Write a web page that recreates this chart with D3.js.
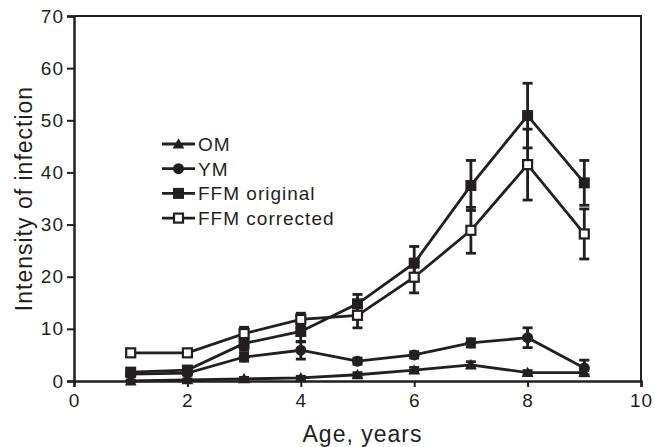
<!DOCTYPE html>
<html>
<head>
<meta charset="utf-8">
<script src="https://cdn.jsdelivr.net/npm/d3@7/dist/d3.min.js"></script>
<style>
  body { margin: 0; background: #fff; }
  text { font-family: "Liberation Sans", Arial, sans-serif; fill: #231f20; }
</style>
</head>
<body>
<div id="chart"></div>
<script>
// data
const ages = [1, 2, 3, 4, 5, 6, 7, 8, 9];
const omMean = [0, 0.2, 0.4, 0.6, 1.2, 2.1, 3.1, 1.6, 1.6];
const omErr = [0.2, 0.2, 0.3, 0.3, 0.4, 0.5, 0.6, 0.4, 0.4];
const ymMean = [1.3, 1.5, 4.6, 5.9, 3.8, 5.0, 7.3, 8.3, 2.5];
const ymErr = [0.4, 0.4, 0.8, 1.7, 0.6, 0.6, 0.8, 1.9, 1.5];
const ffmOrigMean = [1.7, 2.1, 7.2, 9.5, 14.8, 22.6, 37.5, 50.9, 38.0];
const ffmOrigErr = [0.5, 0.5, 1.3, 2.0, 1.8, 3.2, 4.8, 6.2, 4.3];
const ffmCorrMean = [5.4, 5.4, 9.1, 11.8, 12.6, 19.9, 28.9, 41.5, 28.2];
const ffmCorrErr = [0.5, 0.5, 1.2, 1.2, 2.4, 3.0, 4.4, 6.8, 4.8];
const xTicks = [0, 2, 4, 6, 8, 10];
const yTicks = [0, 10, 20, 30, 40, 50, 60, 70];

const series = [
  { name: 'OM', mean: omMean, err: omErr, shape: 'triangle' },
  { name: 'YM', mean: ymMean, err: ymErr, shape: 'circle' },
  { name: 'FFM original', mean: ffmOrigMean, err: ffmOrigErr, shape: 'square' },
  { name: 'FFM corrected', mean: ffmCorrMean, err: ffmCorrErr, shape: 'openSquare' }
];

const ink = '#231f20';
const width = 655;
const height = 447;
const margin = { left: 74, top: 16, right: 14, bottom: 66 };

const svg = d3.select('#chart').append('svg')
  .attr('width', width)
  .attr('height', height);

const x = d3.scaleLinear().domain([0, 10]).range([margin.left, width - margin.right]);
const y = d3.scaleLinear().domain([0, 70]).range([height - margin.bottom, margin.top]);

// frame: top and right edges
svg.append('path')
  .attr('d', `M${x(0)},${y(70)}H${x(10)}V${y(0)}`)
  .attr('fill', 'none')
  .attr('stroke', ink)
  .attr('stroke-width', 2);

// AXES
const xAxis = svg.append('g')
  .attr('transform', `translate(0,${y(0)})`)
  .call(d3.axisBottom(x).tickValues(xTicks).tickSize(6).tickPadding(7));
const yAxis = svg.append('g')
  .attr('transform', `translate(${x(0)},0)`)
  .call(d3.axisLeft(y).tickValues(yTicks).tickSize(7).tickPadding(3));
[xAxis, yAxis].forEach(g => {
  g.select('.domain').attr('stroke', ink).attr('stroke-width', 2.5);
  g.selectAll('.tick line').attr('stroke', ink).attr('stroke-width', 2);
  g.selectAll('.tick text').attr('font-size', 19).attr('fill', ink)
    .attr('letter-spacing', 1)
    .style('font-family', '"Liberation Sans", Arial, sans-serif');
});

svg.append('text')
  .attr('x', x(5) + 5)
  .attr('y', 442)
  .attr('text-anchor', 'middle')
  .attr('font-size', 23)
  .attr('letter-spacing', 1)
  .text('Age, years');

svg.append('text')
  .attr('transform', `translate(32,${y(35)}) rotate(-90)`)
  .attr('text-anchor', 'middle')
  .attr('font-size', 23)
  .attr('letter-spacing', 1)
  .text('Intensity of infection');

// MARKERS
function drawMarker(g, shape, cx, cy) {
  if (shape === 'circle') {
    g.append('circle').attr('cx', cx).attr('cy', cy).attr('r', 5.5).attr('fill', ink);
  } else if (shape === 'square') {
    g.append('rect').attr('x', cx - 5.5).attr('y', cy - 5.5)
      .attr('width', 11).attr('height', 11).attr('fill', ink);
  } else if (shape === 'openSquare') {
    g.append('rect').attr('x', cx - 4.5).attr('y', cy - 4.5)
      .attr('width', 9).attr('height', 9)
      .attr('fill', '#fff').attr('stroke', ink).attr('stroke-width', 2.2);
  } else {
    g.append('path')
      .attr('d', d3.symbol(d3.symbolTriangle, 60)())
      .attr('transform', `translate(${cx},${cy + 1})`)
      .attr('fill', ink);
  }
}

const line = d3.line().x(d => x(d[0])).y(d => y(d[1]));

series.forEach(s => {
  const g = svg.append('g');
  const pts = ages.map((a, i) => [a, s.mean[i], s.err[i]]);
  // error bars
  pts.forEach(p => {
    g.append('line')
      .attr('x1', x(p[0])).attr('x2', x(p[0]))
      .attr('y1', y(p[1] - p[2])).attr('y2', y(p[1] + p[2]))
      .attr('stroke', ink).attr('stroke-width', 2.8);
    [p[1] - p[2], p[1] + p[2]].forEach(v => {
      g.append('line')
        .attr('x1', x(p[0]) - 5).attr('x2', x(p[0]) + 5)
        .attr('y1', y(v)).attr('y2', y(v))
        .attr('stroke', ink).attr('stroke-width', 2.8);
    });
  });
  g.append('path')
    .attr('d', line(pts))
    .attr('fill', 'none')
    .attr('stroke', ink)
    .attr('stroke-width', 2.8);
  pts.forEach(p => drawMarker(g, s.shape, x(p[0]), y(p[1])));
});

// LEGEND
const legend = svg.append('g');
series.forEach((s, i) => {
  const ly = 144 + i * 24.7;
  legend.append('line')
    .attr('x1', 162).attr('x2', 195)
    .attr('y1', ly).attr('y2', ly)
    .attr('stroke', ink).attr('stroke-width', 2.8);
  drawMarker(legend, s.shape, 178.5, ly);
  legend.append('text')
    .attr('x', 198)
    .attr('y', ly + 7)
    .attr('font-size', 19)
    .attr('letter-spacing', 1)
    .text(s.name);
});
</script>
</body>
</html>
